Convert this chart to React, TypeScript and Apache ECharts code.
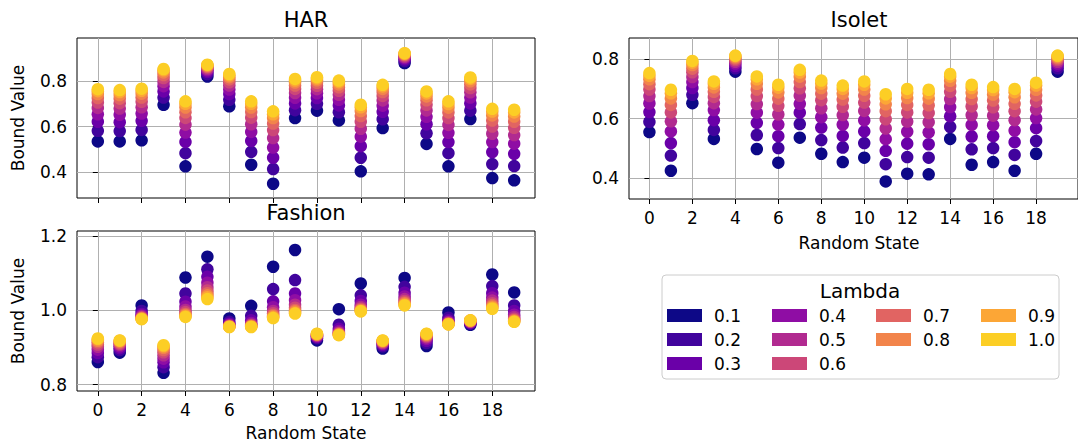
import React, { useEffect, useRef } from 'react';
import * as echarts from 'echarts';

// ---------- data ----------
const RANDOM_STATES = [0, 1, 2, 3, 4, 5, 6, 7, 8, 9, 10, 11, 12, 13, 14, 15, 16, 17, 18, 19];
const LAMBDAS = ['0.1', '0.2', '0.3', '0.4', '0.5', '0.6', '0.7', '0.8', '0.9', '1.0'];
const LAMBDA_COLORS = ['#0d0887', '#41049d', '#6a00a8', '#8f0da4', '#b12a90', '#cc4778', '#e16462', '#f2844b', '#fca636', '#fcce25'];
const X_TICKS = [0, 2, 4, 6, 8, 10, 12, 14, 16, 18];
const HAR_Y_TICKS = [0.4, 0.6, 0.8];
const FASHION_Y_TICKS = [0.8, 1.0, 1.2];
const ISOLET_Y_TICKS = [0.4, 0.6, 0.8];

// rows = random state, columns = lambda 0.1 .. 1.0
const HAR_VALUES = [
  [0.535, 0.582, 0.622, 0.655, 0.683, 0.707, 0.727, 0.744, 0.757, 0.766],
  [0.535, 0.581, 0.620, 0.653, 0.680, 0.704, 0.724, 0.740, 0.753, 0.762],
  [0.540, 0.586, 0.626, 0.658, 0.686, 0.710, 0.729, 0.746, 0.759, 0.768],
  [0.697, 0.729, 0.756, 0.779, 0.798, 0.815, 0.828, 0.840, 0.849, 0.855],
  [0.425, 0.483, 0.533, 0.574, 0.609, 0.639, 0.664, 0.685, 0.701, 0.712],
  [0.822, 0.833, 0.842, 0.849, 0.855, 0.861, 0.865, 0.869, 0.872, 0.874],
  [0.690, 0.719, 0.744, 0.764, 0.782, 0.796, 0.809, 0.819, 0.827, 0.833],
  [0.432, 0.489, 0.537, 0.577, 0.611, 0.640, 0.665, 0.685, 0.701, 0.712],
  [0.348, 0.413, 0.463, 0.508, 0.550, 0.585, 0.614, 0.638, 0.655, 0.668],
  [0.638, 0.673, 0.703, 0.728, 0.749, 0.767, 0.782, 0.795, 0.804, 0.811],
  [0.671, 0.701, 0.727, 0.748, 0.766, 0.781, 0.794, 0.805, 0.813, 0.819],
  [0.628, 0.664, 0.694, 0.719, 0.741, 0.759, 0.774, 0.787, 0.797, 0.804],
  [0.403, 0.463, 0.514, 0.556, 0.591, 0.622, 0.647, 0.669, 0.686, 0.697],
  [0.594, 0.633, 0.666, 0.693, 0.716, 0.736, 0.753, 0.767, 0.778, 0.785],
  [0.881, 0.890, 0.898, 0.904, 0.909, 0.914, 0.918, 0.921, 0.923, 0.925],
  [0.524, 0.571, 0.611, 0.644, 0.672, 0.697, 0.717, 0.734, 0.747, 0.756],
  [0.425, 0.483, 0.532, 0.573, 0.608, 0.638, 0.663, 0.684, 0.700, 0.712],
  [0.634, 0.671, 0.703, 0.729, 0.752, 0.771, 0.787, 0.801, 0.811, 0.818],
  [0.373, 0.435, 0.488, 0.532, 0.569, 0.601, 0.627, 0.650, 0.667, 0.679],
  [0.363, 0.426, 0.480, 0.525, 0.563, 0.595, 0.622, 0.645, 0.663, 0.675],
];

const FASHION_VALUES = [
  [0.861, 0.874, 0.885, 0.894, 0.902, 0.908, 0.914, 0.918, 0.922, 0.924],
  [0.886, 0.893, 0.898, 0.903, 0.907, 0.910, 0.913, 0.916, 0.918, 0.919],
  [1.013, 0.998, 0.990, 0.986, 0.983, 0.981, 0.979, 0.978, 0.977, 0.976],
  [0.832, 0.847, 0.860, 0.870, 0.879, 0.887, 0.893, 0.899, 0.903, 0.906],
  [1.088, 1.045, 1.023, 1.010, 1.001, 0.995, 0.990, 0.987, 0.984, 0.982],
  [1.144, 1.110, 1.090, 1.074, 1.062, 1.053, 1.046, 1.040, 1.035, 1.030],
  [0.978, 0.969, 0.964, 0.961, 0.959, 0.958, 0.957, 0.956, 0.956, 0.955],
  [1.012, 0.985, 0.973, 0.966, 0.962, 0.960, 0.958, 0.957, 0.956, 0.955],
  [1.117, 1.057, 1.024, 1.008, 0.998, 0.992, 0.987, 0.984, 0.981, 0.979],
  [1.162, 1.081, 1.045, 1.027, 1.015, 1.007, 1.001, 0.997, 0.993, 0.991],
  [0.919, 0.925, 0.928, 0.930, 0.932, 0.933, 0.934, 0.935, 0.936, 0.937],
  [1.003, 0.961, 0.950, 0.944, 0.940, 0.938, 0.936, 0.935, 0.934, 0.933],
  [1.072, 1.040, 1.025, 1.015, 1.009, 1.005, 1.002, 1.000, 0.998, 0.997],
  [0.897, 0.903, 0.907, 0.910, 0.912, 0.914, 0.916, 0.917, 0.918, 0.919],
  [1.087, 1.063, 1.047, 1.037, 1.030, 1.025, 1.021, 1.018, 1.015, 1.013],
  [0.904, 0.912, 0.918, 0.923, 0.927, 0.930, 0.932, 0.934, 0.936, 0.937],
  [0.994, 0.980, 0.973, 0.969, 0.967, 0.965, 0.964, 0.963, 0.963, 0.962],
  [0.961, 0.964, 0.966, 0.968, 0.969, 0.970, 0.971, 0.972, 0.973, 0.973],
  [1.096, 1.065, 1.046, 1.034, 1.026, 1.019, 1.014, 1.010, 1.007, 1.004],
  [1.048, 1.013, 0.998, 0.988, 0.982, 0.977, 0.974, 0.972, 0.970, 0.969],
];

const ISOLET_VALUES = [
  [0.555, 0.589, 0.622, 0.651, 0.676, 0.698, 0.716, 0.732, 0.744, 0.753],
  [0.425, 0.476, 0.518, 0.557, 0.591, 0.621, 0.646, 0.668, 0.685, 0.697],
  [0.652, 0.680, 0.703, 0.723, 0.740, 0.756, 0.768, 0.780, 0.788, 0.794],
  [0.532, 0.562, 0.595, 0.629, 0.652, 0.673, 0.690, 0.705, 0.717, 0.725],
  [0.758, 0.769, 0.777, 0.785, 0.791, 0.797, 0.802, 0.806, 0.810, 0.812],
  [0.498, 0.545, 0.586, 0.620, 0.649, 0.676, 0.698, 0.717, 0.732, 0.742],
  [0.452, 0.501, 0.541, 0.580, 0.614, 0.643, 0.667, 0.688, 0.704, 0.714],
  [0.536, 0.582, 0.620, 0.650, 0.677, 0.702, 0.723, 0.741, 0.755, 0.764],
  [0.482, 0.528, 0.570, 0.605, 0.635, 0.662, 0.684, 0.703, 0.718, 0.728],
  [0.454, 0.503, 0.542, 0.580, 0.612, 0.640, 0.664, 0.684, 0.700, 0.711],
  [0.469, 0.518, 0.557, 0.594, 0.626, 0.654, 0.677, 0.698, 0.714, 0.725],
  [0.389, 0.447, 0.492, 0.531, 0.567, 0.598, 0.625, 0.648, 0.668, 0.682],
  [0.415, 0.471, 0.516, 0.556, 0.590, 0.621, 0.646, 0.669, 0.687, 0.700],
  [0.413, 0.469, 0.514, 0.554, 0.588, 0.619, 0.645, 0.667, 0.685, 0.697],
  [0.532, 0.572, 0.608, 0.639, 0.666, 0.690, 0.710, 0.727, 0.741, 0.750],
  [0.445, 0.497, 0.540, 0.579, 0.612, 0.641, 0.666, 0.687, 0.703, 0.714],
  [0.454, 0.501, 0.541, 0.578, 0.610, 0.638, 0.661, 0.681, 0.696, 0.706],
  [0.425, 0.478, 0.521, 0.560, 0.595, 0.625, 0.650, 0.672, 0.689, 0.700],
  [0.482, 0.525, 0.568, 0.602, 0.631, 0.657, 0.678, 0.697, 0.711, 0.721],
  [0.758, 0.769, 0.778, 0.785, 0.791, 0.797, 0.802, 0.806, 0.810, 0.812],
];

// ---------- layout ----------
const FONT = 'DejaVu Sans';
const TICK_FONT = 17;
const PANELS = [
  { title: 'HAR', values: HAR_VALUES, yTicks: HAR_Y_TICKS, yMin: 0.285, yMax: 0.992, left: 77, top: 38, width: 458, height: 160, xLabels: false },
  { title: 'Fashion', values: FASHION_VALUES, yTicks: FASHION_Y_TICKS, yMin: 0.783, yMax: 1.213, left: 77, top: 231, width: 458, height: 160, xLabels: true },
  { title: 'Isolet', values: ISOLET_VALUES, yTicks: ISOLET_Y_TICKS, yMin: 0.33, yMax: 0.871, left: 629, top: 38, width: 460, height: 161, xLabels: true },
];

function buildOption() {
  const grid = PANELS.map((p) => ({
    left: p.left, top: p.top, width: p.width, height: p.height,
    show: true, borderColor: '#000', borderWidth: 1, backgroundColor: 'transparent',
  }));
  const xAxis = PANELS.map((p, i) => ({
    gridIndex: i, type: 'value', min: -0.95, max: 19.95,
    axisLine: { show: false },
    axisTick: { show: true, inside: false, length: 5, lineStyle: { color: '#000', width: 1 }, customValues: X_TICKS },
    axisLabel: { show: p.xLabels, customValues: X_TICKS, margin: 10, fontSize: TICK_FONT, fontFamily: FONT, color: '#000' },
    splitLine: { show: true, lineStyle: { color: '#b0b0b0', width: 1 } },
  }));
  const yAxis = PANELS.map((p, i) => ({
    gridIndex: i, type: 'value', min: p.yMin, max: p.yMax,
    axisLine: { show: false },
    axisTick: { show: true, inside: false, length: 5, lineStyle: { color: '#000', width: 1 }, customValues: p.yTicks },
    axisLabel: { show: true, customValues: p.yTicks, margin: 10, fontSize: TICK_FONT, fontFamily: FONT, color: '#000', formatter: (v: number) => v.toFixed(1) },
    splitLine: { show: true, lineStyle: { color: '#b0b0b0', width: 1 } },
  }));
  const series: any[] = [];
  PANELS.forEach((p, pi) => {
    LAMBDAS.forEach((lam, li) => {
      series.push({
        type: 'scatter', name: lam, xAxisIndex: pi, yAxisIndex: pi,
        symbolSize: 12.5, silent: true,
        itemStyle: { color: LAMBDA_COLORS[li], opacity: 1 },
        data: RANDOM_STATES.map((s, si) => [s, p.values[si][li]]),
      });
    });
  });
  const legendCols = [LAMBDAS.slice(0, 3), LAMBDAS.slice(3, 6), LAMBDAS.slice(6, 8), LAMBDAS.slice(8, 10)];
  const legendLefts = [667, 772, 876, 981];
  const legend = legendCols.map((names, i) => ({
    data: names, orient: 'vertical', left: legendLefts[i], top: 307, padding: 0,
    itemWidth: 35, itemHeight: 13, itemGap: 7, icon: 'rect', selectedMode: false,
    textStyle: { fontSize: TICK_FONT, fontFamily: FONT, color: '#000', lineHeight: 13, padding: [0, 0, 0, 7] },
  }));
  const txt = (text: string, x: number, y: number, size: number, rot = 0) => ({
    type: 'text', x, y, rotation: rot, silent: true,
    style: { text, font: `${size}px "${FONT}"`, fill: '#000', align: 'center', verticalAlign: 'middle', textAlign: 'center', textVerticalAlign: 'middle' },
  });
  const graphic = [
    txt('HAR', 306, 20, 21),
    txt('Fashion', 306, 213, 21),
    txt('Isolet', 859, 20, 21),
    txt('Bound Value', 18, 118, TICK_FONT, Math.PI / 2),
    txt('Bound Value', 18, 311, TICK_FONT, Math.PI / 2),
    txt('Random State', 306, 433, TICK_FONT),
    txt('Random State', 859, 243, TICK_FONT),
    { type: 'rect', silent: true, z: -1, shape: { x: 662, y: 275, width: 397, height: 104, r: 4 }, style: { fill: 'rgba(255,255,255,0.8)', stroke: '#cccccc', lineWidth: 1 } },
    txt('Lambda', 860, 291, 20),
  ];
  return { animation: false, backgroundColor: '#fff', grid, xAxis, yAxis, series, legend, graphic };
}

export default function App() {
  const ref = useRef<HTMLDivElement>(null);
  useEffect(() => {
    if (!ref.current) return;
    const chart = echarts.init(ref.current, null, { renderer: 'svg' });
    chart.setOption(buildOption() as any);
    return () => chart.dispose();
  }, []);
  return <div ref={ref} style={{ position: 'fixed', left: 0, top: 0, width: 1078, height: 445 }} />;
}
